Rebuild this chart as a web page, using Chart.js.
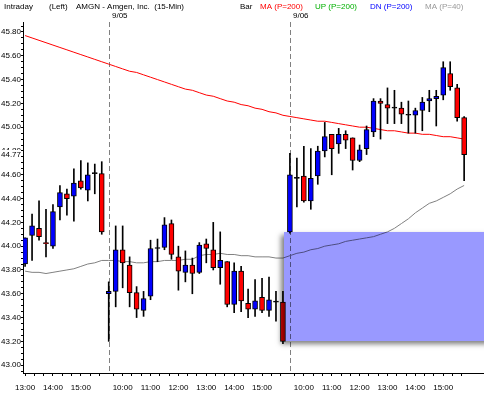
<!DOCTYPE html>
<html><head><meta charset="utf-8">
<script src="https://cdn.jsdelivr.net/npm/chart.js@4.4.0/dist/chart.umd.min.js"></script>
<style>html,body{margin:0;padding:0;background:#fff;overflow:hidden}#wrap{width:484px;height:393px}</style>
</head><body><div id="wrap"><canvas id="c" width="484" height="393"></canvas></div>
<script>
// ---- data ----
const dayLabels = ['9/04', '9/05', '9/06'];
const dayBarCounts = [12, 26, 26];
const daySessionStart = ['13:00', '9:30', '9:30'];
const hourTickIdx = [0, 4, 8, 14, 18, 22, 26, 30, 34, 40, 44, 48, 52, 56, 60];
const hourTickLabels = ['13:00','14:00','15:00','10:00','11:00','12:00','13:00','14:00','15:00','10:00','11:00','12:00','13:00','14:00','15:00'];

const opens = [
  43.85,44.09,44.15,44.03,44.00,44.33,44.44,44.42,44.55,44.47,44.61,44.61,
  43.60,43.62,43.97,43.84,43.61,43.46,43.58,43.98,43.99,44.19,43.91,43.78,43.84,43.78,44.02,43.97,43.82,43.87,43.51,43.79,43.52,43.47,43.57,43.46,43.53,43.53,
  44.12,44.57,44.59,44.38,44.59,44.80,44.94,44.86,44.94,44.91,44.72,44.82,44.96,45.22,45.19,45.16,45.16,45.10,45.10,45.14,45.22,45.24,45.27,45.45,45.33,45.08
];
const highs = [
  44.07,44.27,44.38,44.31,44.35,44.51,44.48,44.65,44.72,44.70,44.69,44.71,
  43.70,44.17,44.17,43.91,43.66,43.62,44.05,44.06,44.24,44.22,44.00,43.96,43.90,44.03,44.06,44.20,44.12,43.87,43.86,43.83,43.64,43.72,43.73,43.74,43.62,43.62,
  44.78,44.74,44.84,44.82,44.84,45.04,44.94,44.99,44.97,44.91,44.85,45.01,45.24,45.24,45.33,45.31,45.21,45.22,45.16,45.25,45.31,45.31,45.55,45.55,45.36,45.09
];
const lows = [
  43.83,43.88,44.05,43.91,43.98,44.22,44.26,44.21,44.48,44.38,44.44,44.10,
  43.20,43.49,43.65,43.49,43.40,43.41,43.55,43.87,43.97,43.89,43.63,43.70,43.60,43.77,43.86,43.80,43.68,43.49,43.44,43.45,43.40,43.41,43.44,43.41,43.37,43.18,
  44.11,44.33,44.37,44.31,44.52,44.75,44.60,44.78,44.82,44.64,44.71,44.77,44.92,44.90,45.03,45.03,45.03,44.95,44.95,44.97,45.13,45.01,45.23,45.31,45.05,44.55
];
const closes = [
  44.07,44.17,44.08,44.02,44.29,44.45,44.40,44.53,44.49,44.60,44.61,44.12,
  43.62,43.97,43.86,43.61,43.47,43.56,43.98,43.98,44.18,43.93,43.79,43.84,43.77,44.01,43.98,43.82,43.88,43.51,43.79,43.54,43.47,43.54,43.46,43.55,43.53,43.20,
  44.60,44.57,44.38,44.57,44.80,44.92,44.82,44.94,44.89,44.72,44.81,44.98,45.22,45.20,45.16,45.16,45.11,45.10,45.14,45.21,45.24,45.26,45.50,45.34,45.08,44.77
];
const ma200 = [
  45.77,45.75,45.73,45.71,45.69,45.67,45.65,45.63,45.61,45.59,
  45.57,45.55,45.53,45.51,45.49,45.47,45.46,45.44,45.42,45.40,
  45.38,45.36,45.34,45.32,45.31,45.29,45.27,45.26,45.24,45.22,
  45.21,45.19,45.18,45.16,45.15,45.13,45.12,45.10,45.09,45.08,
  45.07,45.06,45.05,45.05,45.04,45.03,45.02,45.01,45.00,45.00,
  44.99,44.98,44.97,44.97,44.96,44.95,44.95,44.94,44.94,44.93,
  44.92,44.92,44.91,44.90
];
const ma40 = [
  43.79,43.78,43.78,43.77,43.78,43.79,43.80,43.81,43.83,43.85,
  43.86,43.88,43.88,43.88,43.87,43.87,43.86,43.86,43.87,43.87,
  43.88,43.88,43.88,43.89,43.89,43.92,43.93,43.93,43.94,43.93,
  43.93,43.92,43.92,43.91,43.91,43.91,43.90,43.90,43.92,43.94,
  43.95,43.97,43.98,44.00,44.01,44.02,44.04,44.05,44.06,44.07,
  44.08,44.10,44.12,44.15,44.19,44.23,44.28,44.32,44.36,44.38,
  44.41,44.44,44.48,44.51
];
const zoneBarStart = 37.2;
const zonePrices = [44.12, 43.20];
const headerTexts = ['Intraday', '(Left)', 'AMGN - Amgen, Inc.  (15-Min)', 'Bar', 'MA (P=200)', 'UP (P=200)', 'DN (P=200)', 'MA (P=40)'];

// ---- derived ----
const idx = opens.map((_, i) => i);
const dayStart = [];
{ let acc = 0; dayBarCounts.forEach(n => { dayStart.push(acc); acc += n; }); }
const toMin = s => { const [h, m] = s.split(':').map(Number); return h * 60 + m; };
const xTickValues = [];
dayBarCounts.forEach((n, d) => {
  const s = toMin(daySessionStart[d]);
  const e = s + 15 * (n - 1);
  for (let m = Math.ceil(s / 20) * 20; m <= e; m += 20) xTickValues.push(dayStart[d] + (m - s) / 15);
});

const UP = '#0000ff', DN = '#ff0000';
const bodyColors = idx.map(i => closes[i] > opens[i] ? UP : (closes[i] < opens[i] ? DN : '#000'));

Chart.defaults.font.family = '"Liberation Sans", Arial, sans-serif';
Chart.defaults.font.size = 8;
Chart.defaults.color = '#000';

const overlay = {
  id: 'overlay',
  beforeDatasetsDraw(chart) {
    const { ctx, chartArea: a, scales: { x } } = chart;
    ctx.save();
    ctx.strokeStyle = '#808080'; ctx.lineWidth = 1; ctx.setLineDash([5, 3]);
    dayStart.slice(1).forEach(s => {
      const px = Math.round(x.getPixelForValue(s)) + 0.5;
      ctx.beginPath(); ctx.moveTo(px, a.top); ctx.lineTo(px, a.bottom); ctx.stroke();
    });
    ctx.restore();
  },
  afterDatasetsDraw(chart) {
    const { ctx, chartArea: a, scales: { x, y } } = chart;
    const rx = Math.round(x.getPixelForValue(zoneBarStart));
    const ry = Math.round(y.getPixelForValue(zonePrices[0]));
    const rb = Math.round(y.getPixelForValue(zonePrices[1]));
    const rw = a.right + 10 - rx, rh = rb - ry;
    // soft shadow, only outside the box
    ctx.save();
    ctx.beginPath();
    ctx.rect(0, 0, chart.width, chart.height);
    ctx.rect(rx, ry, rw, rh);
    ctx.clip('evenodd');
    ctx.globalCompositeOperation = 'multiply';
    ctx.shadowColor = 'rgba(0,0,0,0.5)';
    ctx.shadowBlur = 5; ctx.shadowOffsetX = -3; ctx.shadowOffsetY = 3;
    ctx.fillStyle = '#000';
    ctx.fillRect(rx, ry, rw, rh);
    ctx.restore();
    // translucent box
    ctx.save();
    ctx.globalCompositeOperation = 'multiply';
    ctx.fillStyle = '#9999ff';
    ctx.fillRect(rx, ry, rw, rh);
    ctx.restore();
  },
  afterDraw(chart) {
    const { ctx, scales: { x, y } } = chart;
    ctx.save();
    ctx.font = '8px "Liberation Sans", Arial, sans-serif';
    ctx.textBaseline = 'alphabetic'; ctx.textAlign = 'left';
    const hx = [4, 49, 76, 240, 260, 315, 370, 425];
    const hc = ['#000', '#000', '#000', '#000', '#ff0000', '#00b000', '#0000ff', '#999999'];
    headerTexts.forEach((t, k) => { ctx.fillStyle = hc[k]; ctx.fillText(t, hx[k], 8.5); });
    ctx.fillStyle = '#000';
    dayStart.slice(1).forEach((s, k) => {
      ctx.fillText(dayLabels[k + 1], Math.round(x.getPixelForValue(s)) + 3, 17.5);
    });
    // last price marker
    const last = closes[closes.length - 1];
    const py = y.getPixelForValue(last);
    ctx.fillStyle = '#fff';
    ctx.fillRect(0, Math.round(py) - 5, 21, 10);
    ctx.fillStyle = '#000';
    ctx.textAlign = 'right'; ctx.textBaseline = 'middle';
    ctx.fillText(last.toFixed(2), 21, py);
    ctx.restore();
  }
};

new Chart(document.getElementById('c'), {
  type: 'bar',
  data: {
    datasets: [
      { type: 'bar', label: 'body', data: idx.map(i => ({ x: i, y: [opens[i], closes[i]] })),
        backgroundColor: bodyColors, borderColor: '#000', borderWidth: 1, borderSkipped: false,
        barThickness: 5, minBarLength: 1, grouped: false, order: 0 },
      { type: 'bar', label: 'wick', data: idx.map(i => ({ x: i, y: [lows[i], highs[i]] })),
        backgroundColor: '#000', borderWidth: 0, barThickness: 1, grouped: false, order: 1 },
      { type: 'line', label: 'MA200', data: idx.map(i => ({ x: i, y: ma200[i] })),
        borderColor: '#ff0000', borderWidth: 1, pointRadius: 0, tension: 0, order: 2 },
      { type: 'line', label: 'MA40', data: idx.map(i => ({ x: i, y: ma40[i] })),
        borderColor: '#808080', borderWidth: 1, pointRadius: 0, tension: 0, order: 3 }
    ]
  },
  options: {
    responsive: false, animation: false, devicePixelRatio: 1,
    layout: { padding: { top: 22, left: 0, right: 0, bottom: 0 } },
    plugins: { legend: { display: false }, tooltip: { enabled: false } },
    scales: {
      x: {
        type: 'linear', min: -0.3, max: 65.85, offset: false,
        afterBuildTicks: s => { s.ticks = xTickValues.map(v => ({ value: v })); },
        afterFit: s => { s.height = 20; s.paddingLeft = 0; s.paddingRight = 0; },
        ticks: { autoSkip: false, maxRotation: 0, minRotation: 0, padding: 7,
          callback: v => { const k = hourTickIdx.findIndex(h => Math.abs(h - v) < 1e-6); return k >= 0 ? hourTickLabels[k] : ''; } },
        grid: { drawOnChartArea: false, drawTicks: true, tickLength: 3, color: '#000', offset: false },
        border: { display: true, color: '#000', width: 1 }
      },
      y: {
        type: 'linear', min: 42.934, max: 45.884,
        afterBuildTicks: s => {
          const t = [];
          for (let k = Math.ceil(s.min / 0.05 - 1e-9); k * 0.05 <= s.max + 1e-9; k++) t.push({ value: Math.round(k * 5) / 100 });
          s.ticks = t;
        },
        afterFit: s => { s.width = 23; s.paddingTop = 0; s.paddingBottom = 0; },
        ticks: { autoSkip: false, padding: 0,
          callback: v => { const r = v * 5; return Math.abs(r - Math.round(r)) < 1e-6 ? v.toFixed(2) : ''; } },
        grid: { drawOnChartArea: false, drawTicks: true, tickLength: 2, color: '#000' },
        border: { display: true, color: '#000', width: 1 }
      }
    }
  },
  plugins: [overlay]
});
</script>
</body></html>
